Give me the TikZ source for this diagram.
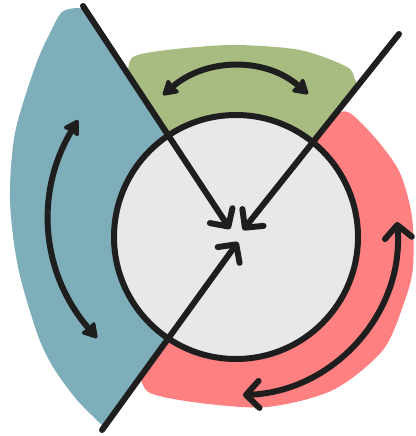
\documentclass[tikz,border=0pt]{standalone}
\usetikzlibrary{arrows.meta}
\definecolor{sectorblue}{HTML}{7EAEBA}
\definecolor{sectorgreen}{HTML}{A8BB80}
\definecolor{sectorred}{HTML}{FF8080}
\definecolor{hubfill}{HTML}{E8E8E8}
\definecolor{ink}{HTML}{1E1E1E}

\begin{document}
\begin{tikzpicture}[x=1pt,y=1pt,line width=6pt,
   blob/.tip={Stealth[round,length=17pt,width=20pt,inset=2pt]},
   barb/.tip={Straight Barb[length=13pt,width=27pt,round]},
   spoke/.style={draw=ink,line cap=round,arrows={-barb}},
   swing/.style={draw=ink,line cap=round,arrows={blob-blob}},
   turn/.style={draw=ink,line cap=round,arrows={barb-barb}}]
  \useasboundingbox (0,0) rectangle (415,436);
  \coordinate (hubc) at (236,199);
  % spokes: outer end and tip near the hub centre
  \coordinate (s1) at (83,430);  \coordinate (t1) at (230,207);
  \coordinate (s2) at (399,402); \coordinate (t2) at (243,206);
  \coordinate (s3) at (102,6);   \coordinate (t3) at (238,194);

  % ---- blue sector (left) ----
  \fill[sectorblue] (86,425) -- (hubc) -- (104,9) -- plot[smooth] coordinates {(104,9) (77,36) (53,69) (37,103)
     (18,169) (10,236) (15,303) (35,369) (50,403) (62,424) (78,428) (86,425)} -- cycle;

  % ---- green sector (top) ----
  \fill[sectorgreen] (hubc) -- (128,362) -- plot[smooth] coordinates {(128,362) (133,379) (167,386) (233,391)
     (300,386) (347,369) (355,356) (358,351)} -- cycle;

  % ---- red sector (right, bottom) ----
  \fill[sectorred] (hubc) -- (336,323) -- plot[smooth] coordinates {(336,323) (350,323) (377,296) (400,263)
     (412,219) (413,169) (405,136) (383,86) (333,46) (267,29) (200,33) (150,43) (140,61)} -- cycle;

  % ---- hub ----
  \node[circle,draw=ink,fill=hubfill,minimum size=244pt,inner sep=0pt] (hub) at (hubc) {};

  % ---- spokes ----
  \draw[spoke] (s1) -- (t1);
  \draw[spoke] (s2) -- (t2);
  \draw[spoke] (s3) -- (t3);

  % ---- swings ----
  \coordinate (gl) at (163,341); \coordinate (gr) at (308,342);
  \coordinate (bt) at (78,316);  \coordinate (bb) at (97,98);
  \coordinate (rt) at (397,214); \coordinate (rb) at (243,41);
  \draw[swing] (gl) to[out=41,in=139] (gr);
  \draw[swing] (bt) to[out=-121,in=131] (bb);
  \draw[turn] (rt) to[out=-85,in=2] (rb);
\end{tikzpicture}
\end{document}
